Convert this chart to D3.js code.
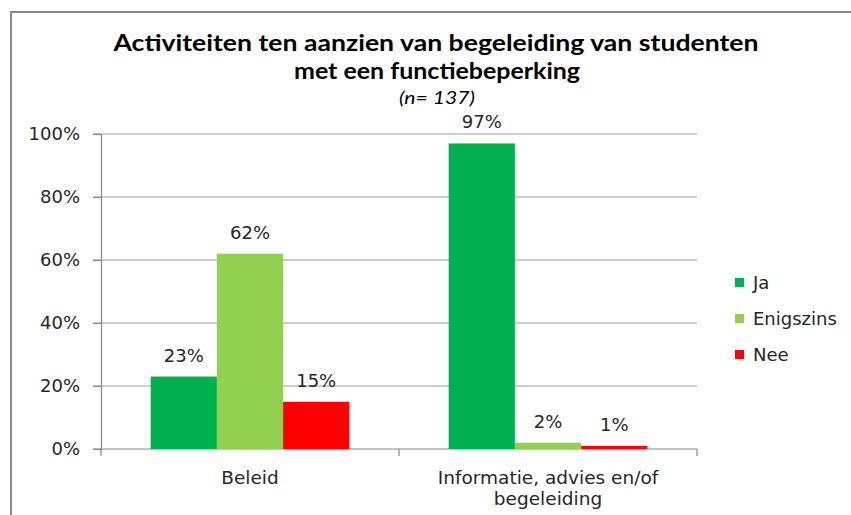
<!DOCTYPE html>
<html>
<head>
<meta charset="utf-8">
<script src="https://cdn.jsdelivr.net/npm/d3@7"></script>
<style>
    body { margin: 0; background: #fff; }
    svg { display: block; }
</style>
</head>
<body>
<svg id="chart" width="851" height="515"></svg>
<script>
// data
const categories = ["Beleid", "Informatie, advies en/of begeleiding"];
const categoryLines = [["Beleid"], ["Informatie, advies en/of", "begeleiding"]];
const series = ["Ja", "Enigszins", "Nee"];
const ja = [23, 97];
const enigszins = [62, 2];
const nee = [15, 1];
const yTicks = [0, 20, 40, 60, 80, 100];

const colors = ["#00b050", "#92d050", "#ff0000"];
const values = [ja, enigszins, nee];

const svg = d3.select("#chart");
const W = 851, H = 515;
const plot = { left: 101, right: 697, top: 134, bottom: 449 };
const bodyFont = "'DejaVu Sans', Verdana, sans-serif";
const bodySize = 18;
const textColor = "#262626";

// outer frame, cut off on the right and bottom like the screenshot
svg.append("rect")
    .attr("x", 11).attr("y", 12)
    .attr("width", W).attr("height", H)
    .attr("fill", "#fff")
    .attr("stroke", "#8a8a8a")
    .attr("stroke-width", 2);

// title
const title = svg.append("g").attr("id", "title")
    .attr("font-family", "Lato, 'Open Sans', sans-serif")
    .attr("fill", "#000")
    .attr("text-anchor", "middle");

title.append("text")
    .attr("x", 436).attr("y", 51)
    .attr("font-size", 22).attr("font-weight", "bold")
    .attr("textLength", 645).attr("lengthAdjust", "spacingAndGlyphs")
    .text("Activiteiten ten aanzien van begeleiding van studenten");
title.append("text")
    .attr("x", 437).attr("y", 79)
    .attr("font-size", 22).attr("font-weight", "bold")
    .attr("textLength", 286).attr("lengthAdjust", "spacingAndGlyphs")
    .text("met een functiebeperking");
title.append("text")
    .attr("x", 437).attr("y", 104)
    .attr("font-size", 18).attr("font-style", "italic")
    .attr("textLength", 76).attr("lengthAdjust", "spacingAndGlyphs")
    .text("(n= 137)");

// scales
const y = d3.scaleLinear().domain([0, 100]).range([plot.bottom, plot.top]);
const x0 = d3.scaleBand().domain(categories).range([plot.left, plot.right]).padding(0);
const barW = x0.bandwidth() / (series.length + 1.5);
const x1 = d3.scaleBand().domain(series)
    .range([0.75 * barW, x0.bandwidth() - 0.75 * barW]).padding(0);

// gridlines
svg.append("g").attr("id", "grid")
    .selectAll("line")
    .data(yTicks.filter(d => d > 0))
    .join("line")
    .attr("x1", plot.left - 8).attr("x2", plot.right)
    .attr("y1", d => y(d)).attr("y2", d => y(d))
    .attr("stroke", "#9a9a9a").attr("stroke-width", 1.2);

// y axis
const yAxis = svg.append("g").attr("id", "yAxis")
    .attr("transform", "translate(" + plot.left + ",0)")
    .call(d3.axisLeft(y).tickValues(yTicks).tickSize(8).tickPadding(13)
        .tickFormat(d => d + "%"));
yAxis.selectAll("text")
    .attr("font-family", bodyFont).attr("font-size", bodySize)
    .attr("fill", textColor);
yAxis.selectAll("line, path").attr("stroke", "#888").attr("stroke-width", 1.2);

// x axis (ticks between categories)
const xAxisG = svg.append("g").attr("id", "xAxis");
xAxisG.append("line")
    .attr("x1", plot.left - 8).attr("x2", plot.right)
    .attr("y1", plot.bottom).attr("y2", plot.bottom)
    .attr("stroke", "#888").attr("stroke-width", 1.2);
const boundaries = categories.map(c => x0(c)).concat([x0(categories[categories.length - 1]) + x0.bandwidth()]);
xAxisG.selectAll("line.tick")
    .data(boundaries)
    .join("line")
    .attr("class", "tick")
    .attr("x1", d => d).attr("x2", d => d)
    .attr("y1", plot.bottom).attr("y2", plot.bottom + 7)
    .attr("stroke", "#888").attr("stroke-width", 1.2);

xAxisG.selectAll("text.cat")
    .data(categories)
    .join("text")
    .attr("class", "cat")
    .attr("text-anchor", "middle")
    .attr("font-family", bodyFont).attr("font-size", bodySize + 0.5)
    .attr("fill", textColor)
    .each(function (d, i) {
        const t = d3.select(this);
        categoryLines[i].forEach((line, j) => {
            t.append("tspan")
                .attr("x", x0(d) + x0.bandwidth() / 2)
                .attr("y", 484 + j * 21)
                .text(line);
        });
    });

// bars
const barData = [];
categories.forEach((c, ci) => {
    series.forEach((s, si) => barData.push({ cat: c, s: s, v: values[si][ci], color: colors[si] }));
});

svg.append("g").attr("id", "bars")
    .selectAll("rect")
    .data(barData)
    .join("rect")
    .attr("x", d => x0(d.cat) + x1(d.s))
    .attr("width", x1.bandwidth())
    .attr("y", d => y(d.v))
    .attr("height", d => y(0) - y(d.v))
    .attr("fill", d => d.color);

svg.append("g").attr("id", "labels")
    .selectAll("text")
    .data(barData)
    .join("text")
    .attr("x", d => x0(d.cat) + x1(d.s) + x1.bandwidth() / 2)
    .attr("y", d => y(d.v) - 15)
    .attr("text-anchor", "middle")
    .attr("font-family", bodyFont).attr("font-size", bodySize)
    .attr("fill", textColor)
    .text(d => d.v + "%");

// legend
const legend = svg.append("g").attr("id", "legend")
    .selectAll("g")
    .data(series)
    .join("g")
    .attr("transform", (d, i) => "translate(735," + (282.5 + i * 36) + ")");
legend.append("rect")
    .attr("x", 0).attr("y", -4.5)
    .attr("width", 9).attr("height", 9)
    .attr("fill", (d, i) => colors[i]);
legend.append("text")
    .attr("x", 18).attr("y", 0).attr("dy", "0.36em")
    .attr("font-family", bodyFont).attr("font-size", bodySize)
    .attr("fill", textColor)
    .text(d => d);
</script>
</body>
</html>
